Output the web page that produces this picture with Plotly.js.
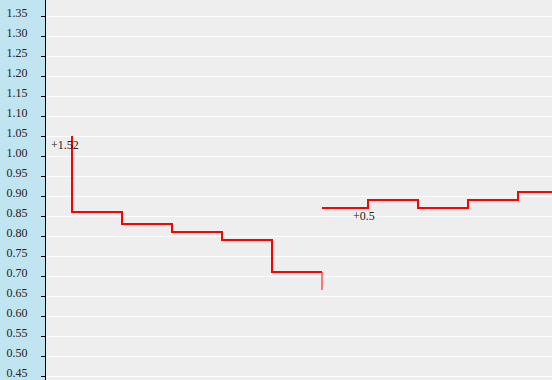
<!DOCTYPE html>
<html><head><meta charset="utf-8">
<script src="https://cdn.plot.ly/plotly-3.0.1.min.js"></script>
<style>html,body{margin:0;padding:0;}#chart{width:552px;height:380px;}</style>
</head><body><div id="chart"></div>
<script>
// Series 1 (drawn as vertical-then-horizontal steps)
const s1X = [0, 1, 2, 3, 4, 5];
const s1Y = [1.05, 0.86, 0.83, 0.81, 0.79, 0.71];
// Thin drop at the end of series 1
const dropX = [5, 5];
const dropY = [0.71, 0.665];
// Series 2 (horizontal-then-vertical steps)
const s2X = [5, 5.92, 6.92, 7.92, 8.92, 9.6];
const s2Y = [0.87, 0.89, 0.87, 0.89, 0.91, 0.91];
// Annotations
const noteText = ["+1.52", "+0.5"];
const noteX = [-0.15, 5.83];
const noteY = [1.0275, 0.85];
// Y tick values/labels
const yTicks = [0.45,0.50,0.55,0.60,0.65,0.70,0.75,0.80,0.85,0.90,0.95,1.00,1.05,1.10,1.15,1.20,1.25,1.30,1.35];
const yTickText = yTicks.map(v => v.toFixed(2));

const traces = [
  {x: s1X, y: s1Y, mode: 'lines', line: {color: '#ff0000', width: 2, shape: 'vh'}, hoverinfo: 'none'},
  {x: dropX, y: dropY, mode: 'lines', line: {color: '#ff0000', width: 1}, hoverinfo: 'none'},
  {x: s2X, y: s2Y, mode: 'lines', line: {color: '#ff0000', width: 2, shape: 'hv'}, hoverinfo: 'none'}
];

const layout = {
  width: 552, height: 380,
  margin: {l: 46, r: 0, t: 0, b: 0, pad: 0},
  paper_bgcolor: '#c1e4f1',
  plot_bgcolor: '#eeeeee',
  showlegend: false,
  font: {family: '"Liberation Serif", "Times New Roman", serif', size: 12, color: '#222'},
  xaxis: {range: [-0.52, 9.6], visible: false, showgrid: false, zeroline: false, fixedrange: true},
  yaxis: {
    range: [0.44, 1.39],
    tickvals: yTicks, ticktext: yTickText,
    showgrid: true, gridcolor: '#ffffff', gridwidth: 1,
    zeroline: false,
    showline: true, linecolor: '#000000', linewidth: 1,
    ticks: 'outside', ticklen: 4, tickcolor: '#000000', tickwidth: 1,
    ticklabelstandoff: 11,
    ticklabelshift: -3,
    ticklabeloverflow: 'allow',
    tickfont: {family: '"Liberation Serif", "Times New Roman", serif', size: 12, color: '#222'},
    fixedrange: true
  },
  annotations: noteText.map((t, i) => ({
    x: noteX[i], y: noteY[i], xref: 'x', yref: 'y', text: t, showarrow: false,
    font: {family: '"Liberation Serif", "Times New Roman", serif', size: 12, color: '#222'},
    xanchor: 'center', yanchor: 'middle'
  }))
};

Plotly.newPlot('chart', traces, layout, {displayModeBar: false, staticPlot: true});
</script>
</body></html>
